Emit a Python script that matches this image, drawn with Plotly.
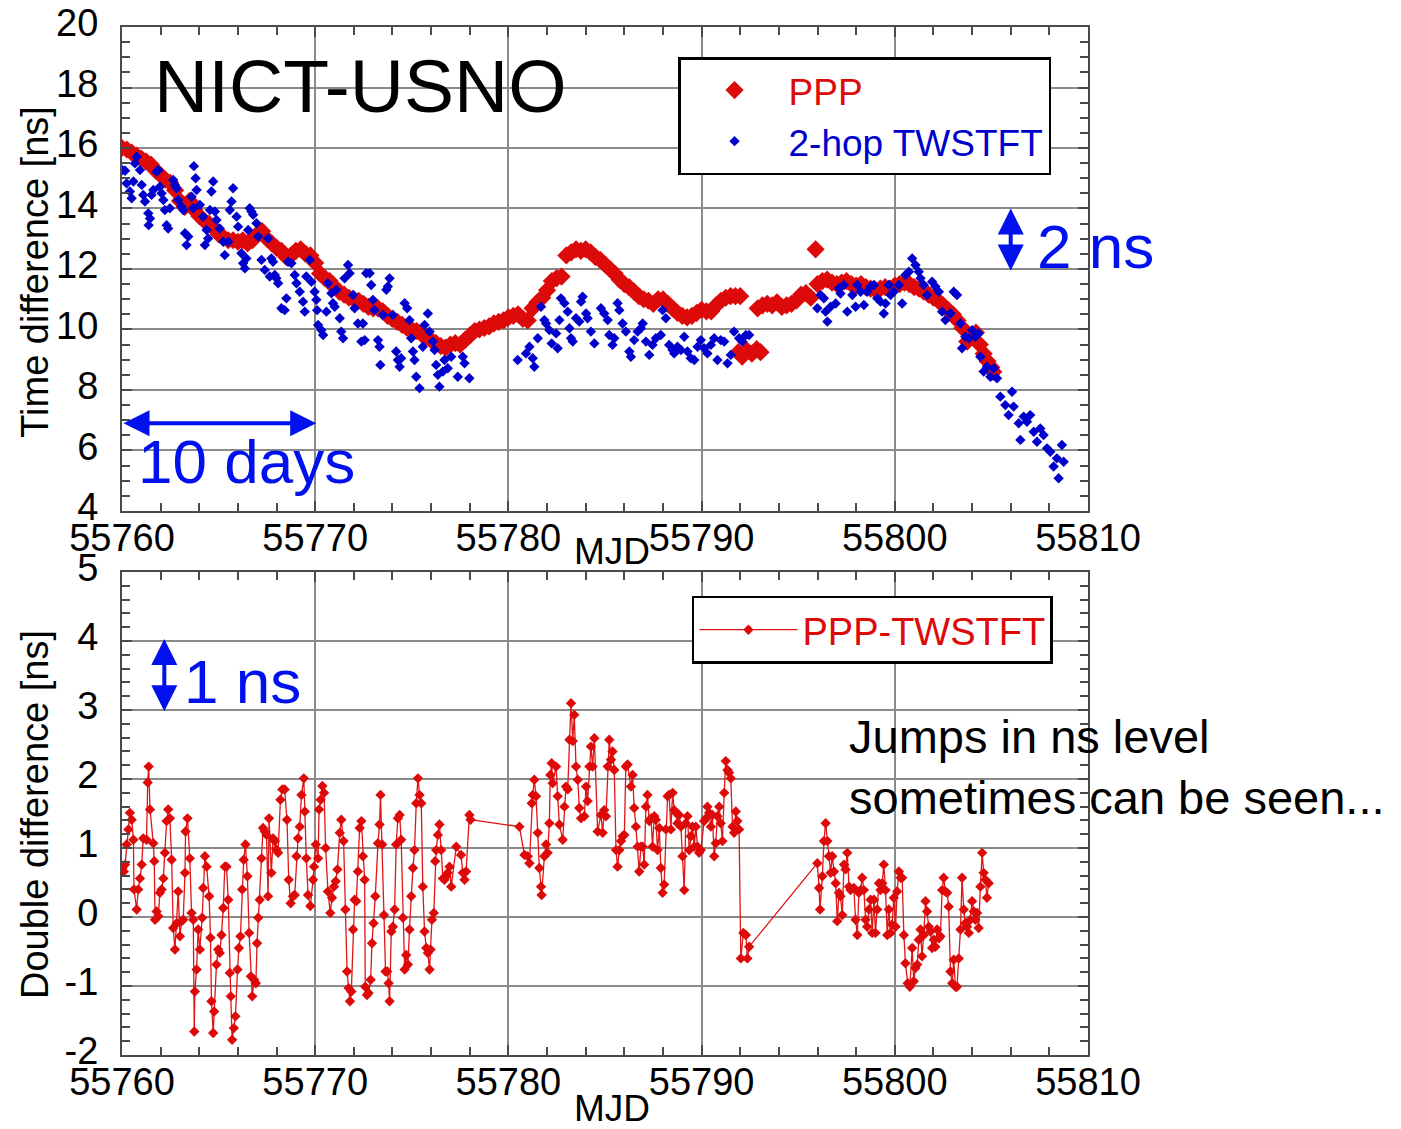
import plotly.graph_objects as go

# ---------------- data ----------------
ppp_mjd = [55760.00, 55760.25, 55760.50, 55760.75, 55761.00, 55761.25, 55761.50, 55761.75, 55762.00, 55762.25,
           55762.50, 55762.75, 55763.00, 55763.25, 55763.50, 55763.75, 55764.00, 55764.25, 55764.50, 55764.75,
           55765.00, 55765.25, 55765.50, 55765.75, 55766.00, 55766.25, 55766.50, 55766.75, 55767.00, 55767.25,
           55767.50, 55767.75, 55768.00, 55768.25, 55768.50, 55768.75, 55769.00, 55769.25, 55769.50, 55769.75,
           55770.00, 55770.25, 55770.50, 55770.75, 55771.00, 55771.25, 55771.50, 55771.75, 55772.00, 55772.25,
           55772.50, 55772.75, 55773.00, 55773.25, 55773.50, 55773.75, 55774.00, 55774.25, 55774.50, 55774.75,
           55775.00, 55775.25, 55775.50, 55775.75, 55776.00, 55776.25, 55776.50, 55776.75, 55777.00, 55777.25,
           55777.50, 55777.75, 55778.00, 55778.25, 55778.50, 55778.75, 55779.00, 55779.25, 55779.50, 55779.75,
           55780.00, 55780.25, 55780.50, 55780.75, 55781.00, 55781.25, 55781.50, 55781.75, 55782.00, 55782.25,
           55782.50, 55782.75, 55783.00, 55783.25, 55783.50, 55783.75, 55784.00, 55784.25, 55784.50, 55784.75,
           55785.00, 55785.25, 55785.50, 55785.75, 55786.00, 55786.25, 55786.50, 55786.75, 55787.00, 55787.25,
           55787.50, 55787.75, 55788.00, 55788.25, 55788.50, 55788.75, 55789.00, 55789.25, 55789.50, 55789.75,
           55790.00, 55790.25, 55790.50, 55790.75, 55791.00, 55791.25, 55791.50, 55791.75, 55791.90, 55792.00,
           55792.10, 55792.35, 55792.60, 55792.85, 55792.90, 55793.05, 55793.15, 55793.40, 55793.65, 55793.90,
           55794.15, 55794.40, 55794.65, 55794.90, 55795.15, 55795.40, 55795.65, 55795.90, 55796.00, 55796.25,
           55796.50, 55796.75, 55797.00, 55797.25, 55797.50, 55797.75, 55798.00, 55798.25, 55798.50, 55798.75,
           55799.00, 55799.25, 55799.50, 55799.75, 55800.00, 55800.25, 55800.50, 55800.75, 55801.00, 55801.25,
           55801.50, 55801.75, 55802.00, 55802.25, 55802.50, 55802.75, 55803.00, 55803.25, 55803.50, 55803.75,
           55804.00, 55804.20, 55804.40, 55804.60, 55804.80, 55805.00, 55805.10]
ppp_ns = [16.00, 15.95, 15.85, 15.75, 15.65, 15.55, 15.45, 15.25, 15.10, 14.95,
          14.85, 14.60, 14.25, 14.05, 14.25, 13.95, 13.75, 13.60, 13.50, 13.35,
          13.15, 13.05, 12.95, 12.95, 12.90, 12.95, 12.85, 12.95, 13.15, 13.25,
          13.00, 12.85, 12.70, 12.60, 12.40, 12.45, 12.60, 12.65, 12.50, 12.45,
          12.20, 11.85, 11.70, 11.60, 11.40, 11.25, 11.15, 11.05, 11.00, 10.95,
          10.85, 10.75, 10.70, 10.70, 10.60, 10.45, 10.35, 10.25, 10.15, 10.05,
          10.00, 9.95, 9.85, 9.75, 9.65, 9.55, 9.45, 9.40, 9.50, 9.55,
          9.50, 9.65, 9.80, 9.95, 10.00, 10.05, 10.10, 10.20, 10.25, 10.30,
          10.40, 10.45, 10.50, 10.35, 10.30, 10.70, 10.90, 11.05, 11.30, 11.60,
          11.70, 11.75, 12.45, 12.55, 12.65, 12.60, 12.65, 12.55, 12.40, 12.30,
          12.15, 12.00, 11.85, 11.65, 11.50, 11.40, 11.25, 11.10, 11.00, 10.95,
          10.85, 11.00, 11.00, 10.85, 10.70, 10.55, 10.45, 10.40, 10.45, 10.55,
          10.65, 10.60, 10.60, 10.80, 10.95, 11.05, 11.10, 11.10, 9.25, 11.10,
          9.10, 9.30, 9.20, 9.35, 10.70, 9.25, 10.80, 10.85, 10.80, 10.90,
          10.75, 10.80, 10.85, 10.95, 11.15, 11.20, 11.05, 12.65, 11.50, 11.60,
          11.65, 11.55, 11.50, 11.55, 11.60, 11.50, 11.45, 11.50, 11.40, 11.35,
          11.30, 11.35, 11.40, 11.35, 11.45, 11.50, 11.55, 11.50, 11.40, 11.35,
          11.25, 11.15, 11.05, 10.95, 10.80, 10.65, 10.50, 10.30, 10.05, 9.60,
          9.80, 9.90, 9.50, 9.20, 8.95, 8.75, 8.60]

tw_mjd = [55760.02, 55760.16, 55760.24, 55760.41, 55760.50, 55760.59, 55760.67, 55760.76, 55760.93, 55761.02,
          55761.10, 55761.19, 55761.36, 55761.38, 55761.45, 55761.53, 55761.62, 55761.79, 55761.88, 55761.96,
          55762.05, 55762.14, 55762.22, 55762.31, 55762.39, 55762.48, 55762.65, 55762.74, 55762.83, 55762.91,
          55763.08, 55763.17, 55763.26, 55763.34, 55763.43, 55763.60, 55763.69, 55763.72, 55763.81, 55763.86,
          55764.03, 55764.20, 55764.29, 55764.38, 55764.46, 55764.55, 55764.63, 55764.72, 55764.81, 55764.89,
          55765.06, 55765.24, 55765.32, 55765.50, 55765.58, 55765.67, 55765.75, 55765.93, 55766.01, 55766.18,
          55766.27, 55766.36, 55766.44, 55766.53, 55766.61, 55766.70, 55766.79, 55766.96, 55767.05, 55767.22,
          55767.39, 55767.56, 55767.65, 55767.73, 55767.82, 55767.91, 55767.99, 55768.08, 55768.25, 55768.42,
          55768.51, 55768.60, 55768.77, 55768.94, 55769.03, 55769.20, 55769.37, 55769.46, 55769.54, 55769.72,
          55769.80, 55769.97, 55770.06, 55770.10, 55770.15, 55770.32, 55770.41, 55770.58, 55770.66, 55770.84,
          55770.92, 55771.01, 55771.09, 55771.27, 55771.35, 55771.44, 55771.52, 55771.70, 55771.78, 55771.96,
          55772.04, 55772.21, 55772.39, 55772.47, 55772.56, 55772.64, 55772.82, 55772.90, 55772.99, 55773.07,
          55773.25, 55773.33, 55773.37, 55773.51, 55773.68, 55773.76, 55773.85, 55774.02, 55774.19, 55774.28,
          55774.37, 55774.45, 55774.63, 55774.76, 55774.88, 55774.97, 55775.06, 55775.14, 55775.23, 55775.40,
          55775.57, 55775.66, 55775.83, 55775.92, 55776.09, 55776.18, 55776.26, 55776.35, 55776.43, 55776.61,
          55776.69, 55776.86, 55777.04, 55777.38, 55777.64, 55777.73, 55777.98, 55780.48, 55780.91, 55781.09,
          55781.26, 55781.34, 55781.52, 55781.69, 55781.86, 55781.95, 55782.12, 55782.24,
          55782.47, 55782.55, 55782.64, 55782.72, 55782.90, 55783.07, 55783.16, 55783.24, 55783.33, 55783.50,
          55783.67, 55783.76, 55783.84, 55784.02, 55784.10, 55784.27, 55784.45, 55784.79, 55784.96, 55785.14,
          55785.22, 55785.39, 55785.48, 55785.65, 55785.74, 55785.91, 55786.08, 55786.26, 55786.34, 55786.51,
          55786.69, 55786.86, 55786.95, 55787.12, 55787.29, 55787.46, 55787.63, 55787.89, 55787.98, 55788.15,
          55788.32, 55788.50, 55788.58, 55788.75, 55788.93, 55789.10, 55789.27, 55789.44, 55789.62, 55789.79,
          55789.96, 55790.13, 55790.30, 55790.48, 55790.65, 55790.82, 55790.99, 55791.17, 55791.34, 55791.51,
          55791.68, 55791.94, 55792.11, 55792.29, 55792.46,
          55795.99, 55796.16, 55796.33, 55796.42, 55796.51, 55796.68, 55796.94, 55797.11, 55797.19, 55797.37,
          55797.54, 55797.80, 55797.97, 55798.06, 55798.23, 55798.40, 55798.57, 55798.75, 55798.92, 55799.09,
          55799.26, 55799.43, 55799.52, 55799.69, 55799.78, 55799.95, 55800.21, 55800.38, 55800.55, 55800.73,
          55800.90, 55801.07, 55801.24, 55801.33, 55801.50, 55801.67, 55801.93, 55802.10, 55802.28, 55802.45,
          55802.62, 55802.88, 55803.05, 55803.22, 55803.40, 55803.48, 55803.65, 55803.83, 55804.00, 55804.17,
          55804.34, 55804.43, 55804.60, 55804.77, 55804.95, 55805.12, 55805.29, 55805.46, 55805.72, 55805.89,
          55806.07, 55806.15, 55806.41, 55806.50, 55806.67, 55806.84, 55807.01, 55807.19, 55807.36, 55807.53,
          55807.70, 55807.88, 55808.05, 55808.22, 55808.39, 55808.48, 55808.65, 55808.74]
tw_ns = [15.27, 15.25, 14.83, 14.56, 14.34, 14.89, 15.49, 15.71, 15.27, 14.78,
         14.45, 14.23, 13.84, 13.45, 13.67, 14.45, 14.61, 15.22, 15.27, 14.72,
         14.50, 14.28, 13.95, 13.45, 13.34, 14.01, 14.94, 14.78, 14.67, 14.28,
         14.06, 13.95, 13.18, 12.79, 13.07, 14.39, 14.01, 15.40, 15.00, 14.61,
         14.12, 13.73, 12.79, 13.29, 13.01, 13.95, 14.56, 14.89, 13.90, 13.62,
         13.34, 12.90, 12.46, 12.90, 13.95, 14.23, 14.67, 13.73, 13.40, 12.52,
         12.19, 12.02, 12.35, 13.29, 14.01, 13.90, 13.79, 13.51, 13.07, 12.30,
         11.97, 13.01, 11.75, 12.35, 12.24, 11.80, 11.69, 11.53, 10.70, 10.64,
         11.03, 12.24, 12.19, 11.80, 11.53, 11.25, 10.92, 10.59, 11.75, 12.30,
         11.58, 11.25, 10.98, 10.64, 10.15, 9.98, 9.82, 10.59, 11.53, 11.20,
         10.87, 10.75, 11.31, 10.37, 9.93, 9.71, 11.69, 12.13, 11.86, 11.14,
         10.70, 10.20, 9.60, 10.20, 9.65, 11.86, 11.86, 11.47, 10.98, 10.64,
         9.65, 9.43, 8.83, 10.48, 11.31, 11.42, 11.69, 10.48, 9.27, 8.99,
         8.77, 9.05, 10.87, 10.70, 10.31, 9.71, 9.27, 8.99, 8.44, 8.06,
         9.43, 10.15, 10.53, 9.93, 9.60, 9.32, 8.83, 8.50, 8.11, 8.61,
         8.99, 8.72, 9.10, 8.44, 9.10, 8.88, 8.39, 8.99, 9.21, 9.43,
         9.05, 8.77, 9.71, 10.75, 10.31, 10.20, 9.98, 9.54,
         9.87, 9.38, 10.31, 11.03, 10.87, 10.59, 10.04, 9.71, 9.60, 10.37,
         10.26, 10.92, 11.08, 10.53, 10.37, 9.93, 9.54, 10.70, 10.53, 10.31,
         9.82, 9.49, 9.71, 10.87, 10.64, 10.20, 9.93, 9.27, 9.10, 9.65,
         9.93, 10.04, 10.20, 9.60, 9.16, 9.49, 9.71, 9.82, 10.64, 10.37,
         9.49, 9.32, 9.21, 9.43, 9.32, 9.76, 9.27, 9.05, 8.99, 9.43,
         9.65, 9.38, 9.21, 9.49, 9.71, 8.99, 9.65, 9.60, 8.88, 9.16,
         9.93, 9.71, 9.60, 9.82, 9.82,
         10.70, 11.14, 11.03, 10.59, 10.26, 10.75, 10.86, 11.36, 11.19, 11.47,
         10.59, 11.14, 10.75, 11.47, 11.25, 10.81, 11.25, 11.42, 11.47, 11.03,
         10.92, 10.53, 10.86, 11.47, 11.14, 11.25, 11.47, 10.86, 11.80, 11.91,
         12.35, 12.13, 11.91, 11.69, 11.47, 11.14, 11.58, 11.42, 11.25, 10.59,
         10.31, 10.53, 11.25, 11.14, 10.20, 9.38, 9.76, 9.71, 9.98, 9.76,
         9.87, 9.10, 8.61, 8.77, 8.44, 8.72, 8.39, 7.78, 7.50, 7.17,
         7.94, 7.45, 6.90, 6.35, 7.12, 6.95, 7.17, 6.62, 6.29, 6.73,
         6.51, 6.07, 5.96, 5.47, 5.74, 5.08, 6.18, 5.63]

dd_mjd = [55760.02, 55760.09, 55760.16, 55760.24, 55760.33, 55760.41, 55760.50, 55760.59, 55760.62, 55760.76,
          55760.84, 55760.93, 55761.02, 55761.10, 55761.27, 55761.33, 55761.38, 55761.45, 55761.62, 55761.67,
          55761.71, 55761.79, 55761.88, 55761.96, 55762.05, 55762.14, 55762.22, 55762.31, 55762.39, 55762.48,
          55762.57, 55762.65, 55762.74, 55762.83, 55762.91, 55763.00, 55763.08, 55763.17, 55763.26, 55763.29,
          55763.39, 55763.51, 55763.60, 55763.69, 55763.74, 55763.77, 55763.86, 55763.94, 55764.03, 55764.15,
          55764.20, 55764.29, 55764.38, 55764.51, 55764.58, 55764.63, 55764.72, 55764.77, 55764.89, 55764.98,
          55765.06, 55765.15, 55765.24, 55765.32, 55765.41, 55765.50, 55765.58, 55765.63, 55765.70, 55765.79,
          55765.87, 55765.98, 55766.05, 55766.13, 55766.22, 55766.30, 55766.39, 55766.49, 55766.58, 55766.67,
          55766.74, 55766.84, 55766.93, 55766.99, 55767.05, 55767.13, 55767.22, 55767.30, 55767.39, 55767.48,
          55767.56, 55767.61, 55767.73, 55767.82, 55767.91, 55767.99, 55768.08, 55768.20, 55768.30, 55768.42,
          55768.54, 55768.63, 55768.73, 55768.85, 55768.94, 55769.03, 55769.11, 55769.20, 55769.29, 55769.41,
          55769.46, 55769.54, 55769.63, 55769.75, 55769.89, 55769.94, 55770.03, 55770.15, 55770.20, 55770.28,
          55770.37, 55770.46, 55770.54, 55770.66, 55770.78, 55770.87, 55770.97, 55771.06, 55771.15, 55771.27,
          55771.35, 55771.47, 55771.56, 55771.65, 55771.73, 55771.80, 55771.87, 55771.96, 55772.04, 55772.13,
          55772.21, 55772.30, 55772.39, 55772.47, 55772.56, 55772.59, 55772.68, 55772.76, 55772.87, 55772.94,
          55773.02, 55773.11, 55773.25, 55773.33, 55773.38, 55773.47, 55773.56, 55773.64, 55773.73, 55773.80,
          55773.85, 55773.94, 55774.02, 55774.11, 55774.19, 55774.28, 55774.37, 55774.45, 55774.54, 55774.63,
          55774.71, 55774.80, 55774.88, 55774.97, 55775.06, 55775.14, 55775.23, 55775.32, 55775.40, 55775.49,
          55775.57, 55775.66, 55775.75, 55775.83, 55775.92, 55775.97, 55776.04, 55776.14, 55776.21, 55776.26,
          55776.35, 55776.43, 55776.52, 55776.61, 55776.69, 55776.78, 55776.86, 55776.95, 55777.04, 55777.30,
          55777.55, 55777.64, 55777.73, 55777.81, 55777.98, 55778.04, 55780.57, 55780.83, 55781.00, 55781.09,
          55781.21, 55781.26, 55781.34, 55781.43, 55781.52, 55781.60, 55781.69, 55781.72, 55781.86, 55781.95,
          55782.03, 55782.12, 55782.17, 55782.24, 55782.29,
          55782.47, 55782.55, 55782.64, 55782.81, 55782.90, 55782.98, 55783.07, 55783.16, 55783.24, 55783.33,
          55783.41, 55783.50, 55783.59, 55783.67, 55783.76, 55783.93, 55784.02, 55784.10, 55784.19, 55784.27,
          55784.36, 55784.45, 55784.62, 55784.79, 55784.88, 55784.96, 55785.05, 55785.14, 55785.22, 55785.31,
          55785.39, 55785.48, 55785.57, 55785.65, 55785.74, 55785.83, 55785.91, 55786.00, 55786.08, 55786.17,
          55786.34, 55786.43, 55786.51, 55786.60, 55786.69, 55786.77, 55786.86, 55786.95, 55787.03, 55787.12,
          55787.20, 55787.29, 55787.38, 55787.46, 55787.55, 55787.63, 55787.72, 55787.81, 55787.89, 55787.98,
          55788.06, 55788.15, 55788.24, 55788.32, 55788.41, 55788.50, 55788.58, 55788.67, 55788.75, 55788.84,
          55788.93, 55789.01, 55789.10, 55789.18, 55789.27, 55789.36, 55789.44, 55789.53, 55789.62, 55789.70,
          55789.79, 55789.87, 55789.96, 55790.13, 55790.22, 55790.30, 55790.39, 55790.48, 55790.56, 55790.65,
          55790.73, 55790.82, 55790.91, 55790.99, 55791.08, 55791.17, 55791.25, 55791.34, 55791.42, 55791.51,
          55791.60, 55791.68, 55791.77, 55791.85, 55791.94, 55792.03, 55792.16, 55792.29, 55792.37, 55792.46,
          55795.99, 55796.08, 55796.13, 55796.25, 55796.33, 55796.42, 55796.51, 55796.59, 55796.68, 55796.76,
          55796.85, 55796.94, 55797.02, 55797.11, 55797.19, 55797.28, 55797.37, 55797.45, 55797.54, 55797.63,
          55797.71, 55797.88, 55797.97, 55798.06, 55798.14, 55798.23, 55798.31, 55798.40, 55798.49, 55798.57,
          55798.66, 55798.75, 55798.83, 55798.92, 55799.00, 55799.09, 55799.18, 55799.26, 55799.35, 55799.43,
          55799.52, 55799.61, 55799.69, 55799.78, 55799.86, 55799.95, 55800.04, 55800.12, 55800.21, 55800.30,
          55800.38, 55800.47, 55800.55, 55800.67, 55800.78, 55800.90, 55800.98, 55801.07, 55801.16, 55801.24,
          55801.33, 55801.41, 55801.50, 55801.59, 55801.67, 55801.76, 55801.85, 55801.93, 55802.02, 55802.10,
          55802.19, 55802.28, 55802.36, 55802.45, 55802.53, 55802.62, 55802.71, 55802.79, 55802.88, 55802.97,
          55803.05, 55803.14, 55803.22, 55803.31, 55803.40, 55803.48, 55803.57, 55803.65, 55803.74, 55803.83,
          55803.91, 55804.00, 55804.09, 55804.17, 55804.26, 55804.34, 55804.43, 55804.52, 55804.60, 55804.69,
          55804.77, 55804.86]
dd_ns = [0.71, 0.66, 0.76, 1.05, 1.27, 1.51, 1.41, 1.12, 0.40, 0.11,
         0.40, 0.56, 0.76, 1.14, 1.12, 1.95, 2.18, 1.56, 1.07, 0.81,
         -0.04, 0.08, 0.01, 0.35, 0.40, 0.56, 0.93, 1.39, 1.56, 1.43,
         0.83, -0.16, -0.47, -0.09, 0.37, -0.28, -0.06, -0.04, 0.64, 1.24,
         1.43, 0.85, 0.06, -0.04, -1.66, -1.08, -0.76, -0.18, -0.47, -0.01,
         0.42, 0.88, 0.73, 0.30, -0.30, -1.22, -1.68, -1.37, -0.69, -0.47,
         -0.52, -0.26, 0.13, 0.73, 0.73, 0.25, -0.81, -1.15, -1.78, -1.61,
         -1.44, -0.76, -0.45, -0.28, 0.40, 0.83, 1.05, 0.59, -0.23, -0.86,
         -1.15, -0.91, -0.96, -0.38, -0.01, 0.25, 0.85, 1.29, 1.24, 1.19,
         0.30, 1.43, 0.64, 1.14, 1.10, 0.98, 0.93, 1.70, 1.85, 1.85,
         1.41, 0.54, 0.20, 0.30, 0.32, 0.88, 1.14, 1.31, 1.77, 2.01,
         1.53, 0.85, 0.32, 0.16, 0.54, 0.73, 1.05, 0.85, 1.56, 1.70,
         1.90, 1.80, 1.00, 0.37, 0.06, 0.28, 0.44, 0.52, 0.69, 1.22,
         1.41, 1.10, 0.11, -0.79, -1.03, -1.22, -1.08, -0.18, 0.25, 0.23,
         0.66, 1.29, 1.39, 0.88, 0.54, -1.01, -1.13, -1.10, -0.91, -0.38,
         -0.09, 0.30, 1.07, 1.34, 1.77, 1.05, 0.03, -0.79, -0.79, -0.96,
         -1.22, -0.21, -0.14, 0.11, 1.05, 1.43, 1.48, 1.12, -0.01, -0.76,
         -0.55, -0.69, -0.18, 0.30, 0.71, 0.97, 1.65, 2.01, 1.77, 1.65,
         0.44, -0.21, -0.45, -0.52, -0.76, -0.47, -0.04, 0.06, 0.81, 0.97,
         1.19, 1.34, 0.97, 0.56, 0.54, 0.59, 0.64, 0.73, 0.44, 1.02,
         0.90, 0.64, 0.54, 0.66, 1.48, 1.41, 1.31, 0.90, 0.88, 0.78,
         1.65, 1.77, 1.99, 1.75, 1.22, 0.71, 0.44, 0.32, 0.88, 1.05,
         0.93, 1.36, 2.06, 2.23, 1.94,
         2.18, 1.75, 1.34, 1.12, 1.60, 1.89, 1.85, 2.57, 3.10, 2.55,
         2.93, 2.18, 1.99, 1.58, 1.43, 1.46, 1.89, 1.68, 2.18, 2.47,
         2.18, 2.59, 1.24, 1.48, 1.22, 1.55, 1.46, 2.18, 2.57, 2.28,
         2.40, 2.13, 0.97, 0.73, 0.97, 1.10, 1.17, 1.19, 2.18, 2.21,
         1.89, 2.06, 1.58, 1.31, 1.02, 0.66, 1.02, 1.02, 0.76, 1.60,
         1.77, 1.39, 1.43, 1.02, 1.46, 1.41, 0.97, 1.29, 0.71, 0.35,
         0.47, 1.27, 1.75, 1.77, 1.27, 1.80, 1.55, 1.51, 1.36, 1.48,
         1.31, 0.88, 0.39, 1.36, 1.46, 0.97, 1.17, 1.31, 1.02, 1.31,
         1.02, 0.93, 0.97, 1.39, 1.43, 1.60, 1.51, 1.31, 1.48, 0.88,
         1.07, 1.46, 1.60, 1.36, 1.10, 1.80, 2.26, 2.13, 2.09, 2.01,
         1.31, 1.22, 1.53, 1.39, 1.27, -0.60, -0.23, -0.26, -0.60, -0.43,
         0.78, 0.42, 0.11, 0.59, 1.10, 1.36, 1.10, 0.88, 0.64, 0.88,
         0.66, 0.49, -0.06, 0.35, 0.30, 0.03, 0.76, 0.69, 0.93, 0.44,
         0.39, 0.42, -0.04, -0.26, 0.35, 0.39, 0.57, 0.39, -0.04, -0.14,
         0.11, 0.25, -0.23, 0.25, -0.23, 0.11, 0.49, 0.39, 0.49, 0.76,
         0.39, -0.26, 0.11, -0.23, -0.11, 0.28, -0.14, 0.37, 0.66, 0.57,
         0.57, -0.26, -0.67, -0.96, -1.01, -0.45, -0.93, -0.74, -0.69, -0.33,
         -0.18, -0.57, -0.26, 0.23, 0.08, -0.14, -0.21, -0.45, -0.33, -0.43,
         -0.18, -0.31, -0.28, 0.39, 0.57, 0.37, 0.35, 0.15, -0.79, -0.96,
         -0.62, -1.01, -1.01, -0.60, -0.18, 0.57, 0.11, -0.09, -0.14, -0.23,
         -0.04, 0.23, 0.08, -0.04, 0.06, -0.16, 0.44, 0.93, 0.64, 0.54,
         0.28, 0.49]

x_ticks = [55760, 55770, 55780, 55790, 55800, 55810]
top_y_ticks = [4, 6, 8, 10, 12, 14, 16, 18, 20]
bot_y_ticks = [-2, -1, 0, 1, 2, 3, 4, 5]

# ---------------- styling ----------------
FONT = "Liberation Sans, Arial, sans-serif"
RED = "#DD0A0A"
BLUE = "#0000CC"
ABLUE = "#0011EE"
GRID = "#8a8a8a"
AXC = "#4a4a4a"

fig = go.Figure()

fig.add_trace(go.Scatter(
    x=ppp_mjd, y=ppp_ns, mode="markers", xaxis="x", yaxis="y",
    marker=dict(symbol="diamond", size=14, color=RED, line=dict(width=0)),
    name='<span style="color:#DD0A0A">PPP</span>', legend="legend"))
fig.add_trace(go.Scatter(
    x=tw_mjd, y=tw_ns, mode="markers", xaxis="x", yaxis="y",
    marker=dict(symbol="diamond", size=8, color=BLUE, line=dict(width=0)),
    name='<span style="color:#0000CC">2-hop TWSTFT</span>', legend="legend"))
fig.add_trace(go.Scatter(
    x=dd_mjd, y=dd_ns, mode="lines+markers", xaxis="x2", yaxis="y2",
    line=dict(color="#E01515", width=1.3),
    marker=dict(symbol="diamond", size=8, color=RED, line=dict(width=0)),
    name="PPP-TWSTFT", legend="legend2"))

def xax(anchor):
    return dict(range=[55760, 55810], tickvals=x_ticks, tickformat="d", anchor=anchor,
                automargin=False,
                showgrid=True, gridcolor=GRID, gridwidth=1.5, zeroline=False,
                showline=True, linecolor=AXC, linewidth=2, mirror="allticks",
                ticks="inside", ticklen=10, tickwidth=1.5, tickcolor=AXC,
                minor=dict(dtick=2, tick0=55760, ticks="inside", ticklen=8, tickwidth=1.5,
                           tickcolor=AXC, showgrid=False),
                ticklabelstandoff=-8,
                tickfont=dict(family=FONT, size=38, color="black"))

def yax(anchor, domain, rng, ticks, mdt):
    return dict(range=rng, tickvals=ticks, ticktext=[str(t) for t in ticks],
                anchor=anchor, domain=domain, automargin=False,
                showgrid=True, gridcolor=GRID, gridwidth=1.5, zeroline=False,
                showline=True, linecolor=AXC, linewidth=2, mirror="allticks",
                ticks="inside", ticklen=10, tickwidth=1.5, tickcolor=AXC,
                minor=dict(dtick=mdt, ticks="inside", ticklen=8, tickwidth=1.5,
                           tickcolor=AXC, showgrid=False),
                ticklabelstandoff=14, ticklabelshift=-4,
                tickfont=dict(family=FONT, size=38, color="black"))

annotations = [
    dict(text="NICT-USNO", x=55772.35, y=18.05, xref="x", yref="y", showarrow=False,
         font=dict(family=FONT, size=75, color="black"), xanchor="center", yanchor="middle"),
    dict(text="2 ns", x=55807.25, y=12.75, xref="x", yref="y", showarrow=False,
         font=dict(family=FONT, size=62, color=ABLUE), xanchor="left", yanchor="middle"),
    dict(text="10 days", x=55760.7, y=5.65, xref="x", yref="y", showarrow=False,
         font=dict(family=FONT, size=62, color=ABLUE), xanchor="left", yanchor="middle"),
    dict(text="1 ns", x=55763.1, y=3.42, xref="x2", yref="y2", showarrow=False,
         font=dict(family=FONT, size=62, color=ABLUE), xanchor="left", yanchor="middle"),
    dict(text="Jumps in ns level<br>sometimes can be seen...", x=55797.5, y=2.17,
         xref="x2", yref="y2", showarrow=False, align="left",
         font=dict(family=FONT, size=47, color="black"), xanchor="left", yanchor="middle"),
    # arrows
    dict(text="", x=55806.0, y=14.0, ax=55806.0, ay=11.9, xref="x", yref="y",
         axref="x", ayref="y", showarrow=True, arrowside="end+start", arrowhead=2,
         arrowsize=1.3, arrowwidth=4, arrowcolor=ABLUE),
    dict(text="", x=55770.05, y=6.9, ax=55760.0, ay=6.9, xref="x", yref="y",
         axref="x", ayref="y", showarrow=True, arrowside="end+start", arrowhead=2,
         arrowsize=1.3, arrowwidth=4, arrowcolor=ABLUE),
    dict(text="", x=55762.19, y=4.03, ax=55762.19, ay=2.96, xref="x2", yref="y2",
         axref="x2", ayref="y2", showarrow=True, arrowside="end+start", arrowhead=2,
         arrowsize=1.3, arrowwidth=4, arrowcolor=ABLUE),
    # axis titles
    dict(text="MJD", x=0.507, y=0.490, xref="paper", yref="paper", showarrow=False,
         font=dict(family=FONT, size=37, color="black"), xanchor="center", yanchor="middle"),
    dict(text="MJD", x=0.507, y=-0.0525, xref="paper", yref="paper", showarrow=False,
         font=dict(family=FONT, size=37, color="black"), xanchor="center", yanchor="middle"),
    dict(text="Time difference [ns]", x=-0.090, y=0.762, xref="paper", yref="paper",
         showarrow=False, textangle=-90,
         font=dict(family=FONT, size=38, color="black"), xanchor="center", yanchor="middle"),
    dict(text="Double difference [ns]", x=-0.090, y=0.2335, xref="paper", yref="paper",
         showarrow=False, textangle=-90,
         font=dict(family=FONT, size=38, color="black"), xanchor="center", yanchor="middle"),
]

fig.update_layout(
    width=1401, height=1129,
    margin=dict(l=122, r=313, t=27, b=74, autoexpand=False),
    paper_bgcolor="white", plot_bgcolor="white",
    font=dict(family=FONT, size=38, color="black"),
    xaxis=xax("y"),
    xaxis2=xax("y2"),
    yaxis=yax("x", [0.5292, 1.0], [4, 20], top_y_ticks, 0.5),
    yaxis2=yax("x2", [0.0, 0.4698], [-2, 5], bot_y_ticks, 0.2),
    legend=dict(x=0.5756, y=0.9708, xanchor="left", yanchor="top",
                bgcolor="white", bordercolor="black", borderwidth=2.5,
                font=dict(family=FONT, size=37), itemwidth=98, tracegroupgap=0),
    legend2=dict(x=0.590, y=0.4465, xanchor="left", yanchor="top",
                 bgcolor="white", bordercolor="black", borderwidth=2.5,
                 font=dict(family=FONT, size=38, color=RED), itemwidth=98),
    annotations=annotations,
    showlegend=True,
)

fig.write_html("out.html")
